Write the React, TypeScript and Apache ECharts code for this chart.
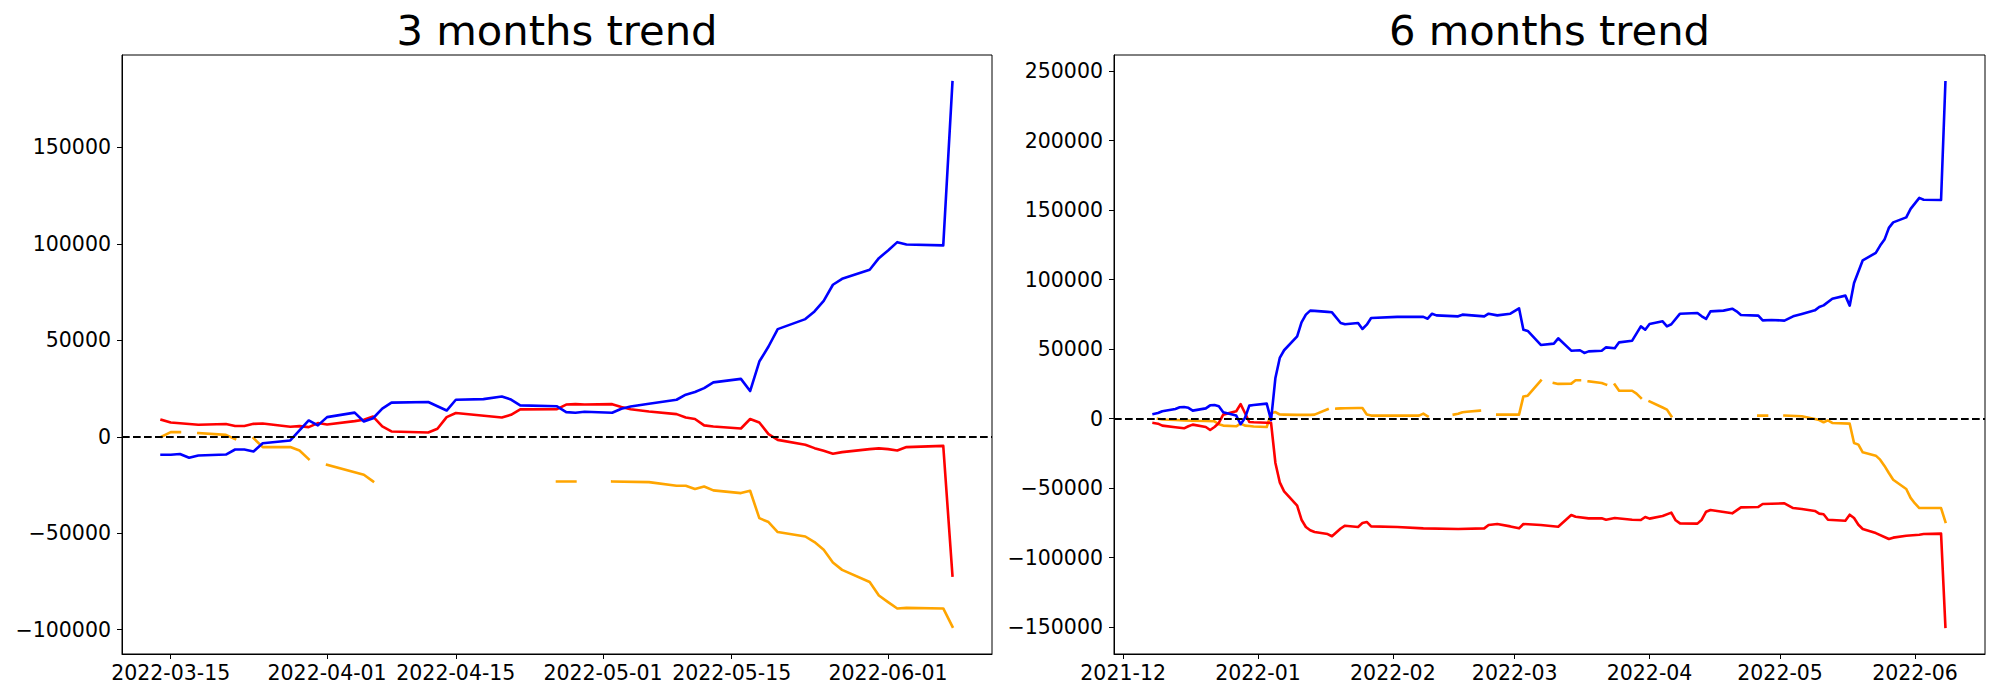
import React, { useEffect, useRef } from 'react';
import * as echarts from 'echarts';

type Pt = [string, number | null];

// ---------- 3 months panel ----------
const leftBlue: Pt[] = [
  ["2022-03-14",-9300],["2022-03-15",-9300],["2022-03-16",-8900],["2022-03-17",-10900],["2022-03-18",-9700],
  ["2022-03-21",-9200],["2022-03-22",-6600],["2022-03-23",-6600],["2022-03-24",-7600],["2022-03-25",-3400],
  ["2022-03-28",-1900],["2022-03-30",8450],["2022-03-31",5900],["2022-04-01",10200],["2022-04-04",12500],
  ["2022-04-05",7950],["2022-04-06",9600],["2022-04-07",14600],["2022-04-08",17700],["2022-04-12",18000],
  ["2022-04-14",13600],["2022-04-15",19200],["2022-04-18",19500],["2022-04-20",20900],["2022-04-21",19300],
  ["2022-04-22",16300],["2022-04-26",15800],["2022-04-27",12800],["2022-04-28",12440],["2022-04-29",12960],
  ["2022-05-02",12440],["2022-05-03",14500],["2022-05-04",15700],["2022-05-06",17100],["2022-05-09",19200],
  ["2022-05-10",21800],["2022-05-11",23200],["2022-05-12",25200],["2022-05-13",28200],["2022-05-16",30000],
  ["2022-05-17",23700],["2022-05-18",39000],["2022-05-19",46800],["2022-05-20",55800],["2022-05-23",61000],
  ["2022-05-24",65000],["2022-05-25",70500],["2022-05-26",78800],["2022-05-27",81900],["2022-05-30",86600],
  ["2022-05-31",92600],["2022-06-01",96600],["2022-06-02",100900],["2022-06-03",99700],["2022-06-07",99200],
  ["2022-06-08",183800],
];

const leftRed: Pt[] = [
  ["2022-03-14",8800],["2022-03-15",7400],["2022-03-18",6200],["2022-03-21",6600],["2022-03-22",5600],
  ["2022-03-23",5600],["2022-03-24",6700],["2022-03-25",6900],["2022-03-28",5200],["2022-03-29",5500],
  ["2022-03-30",5000],["2022-03-31",7100],["2022-04-01",6400],["2022-04-04",8100],["2022-04-05",8800],
  ["2022-04-06",10500],["2022-04-07",5350],["2022-04-08",2760],["2022-04-12",2250],["2022-04-13",4150],
  ["2022-04-14",10200],["2022-04-15",12300],["2022-04-20",10000],["2022-04-21",11400],["2022-04-22",14200],
  ["2022-04-26",14340],["2022-04-27",16700],["2022-04-28",16900],["2022-04-29",16700],["2022-05-02",16900],
  ["2022-05-03",15400],["2022-05-04",14300],["2022-05-06",13100],["2022-05-09",11750],["2022-05-10",10000],
  ["2022-05-11",9200],["2022-05-12",5900],["2022-05-13",5350],["2022-05-16",4300],["2022-05-17",9200],
  ["2022-05-18",7400],["2022-05-19",1400],["2022-05-20",-1600],["2022-05-23",-4150],["2022-05-24",-5900],
  ["2022-05-25",-7300],["2022-05-26",-8800],["2022-05-27",-7950],["2022-05-30",-6400],["2022-05-31",-6000],
  ["2022-06-01",-6400],["2022-06-02",-7100],["2022-06-03",-5350],["2022-06-07",-4700],["2022-06-08",-72000],
];

const leftOrange: Pt[] = [
  ["2022-03-14",0],["2022-03-15",2400],["2022-03-16",2400],["2022-03-17",null],["2022-03-18",1900],
  ["2022-03-21",1000],["2022-03-22",-1200],["2022-03-23",null],["2022-03-24",-700],["2022-03-25",-5350],
  ["2022-03-28",-5350],["2022-03-29",-7100],["2022-03-30",-11600],["2022-03-31",null],["2022-04-01",-14500],
  ["2022-04-05",-19700],["2022-04-06",-23150],["2022-04-07",null],["2022-04-26",-23150],["2022-04-28",-23150],
  ["2022-04-29",null],["2022-05-02",-23150],["2022-05-06",-23500],["2022-05-09",-25400],["2022-05-10",-25400],
  ["2022-05-11",-27100],["2022-05-12",-25750],["2022-05-13",-27800],["2022-05-16",-29200],["2022-05-17",-28000],
  ["2022-05-18",-42200],["2022-05-19",-44200],["2022-05-20",-49400],["2022-05-23",-51700],["2022-05-24",-54600],
  ["2022-05-25",-58600],["2022-05-26",-65200],["2022-05-27",-69000],["2022-05-30",-75300],["2022-05-31",-82300],
  ["2022-06-01",-85700],["2022-06-02",-89000],["2022-06-03",-88700],["2022-06-07",-89000],["2022-06-08",-98500],
];

// ---------- 6 months panel ----------
const rightBlue: Pt[] = [
  ["2021-12-08",3400],["2021-12-09",4100],["2021-12-10",5300],["2021-12-13",7000],["2021-12-14",8150],
  ["2021-12-15",8400],["2021-12-16",7800],["2021-12-17",5800],["2021-12-20",7400],["2021-12-21",9600],
  ["2021-12-22",9800],["2021-12-23",8900],["2021-12-24",4600],["2021-12-27",2200],["2021-12-28",-4000],
  ["2021-12-29",500],["2021-12-30",9400],["2021-12-31",9800],["2022-01-03",10800],["2022-01-04",-1000],
  ["2022-01-05",29300],["2022-01-06",43700],["2022-01-07",49200],["2022-01-10",59200],["2022-01-11",69300],
  ["2022-01-12",74800],["2022-01-13",77700],["2022-01-14",77500],["2022-01-17",76800],["2022-01-18",76500],
  ["2022-01-20",68800],["2022-01-21",67900],["2022-01-24",68800],["2022-01-25",64500],["2022-01-26",67600],
  ["2022-01-27",72400],["2022-02-02",73200],["2022-02-08",73200],["2022-02-09",71900],["2022-02-10",75500],
  ["2022-02-11",74300],["2022-02-16",73600],["2022-02-17",74800],["2022-02-22",73600],["2022-02-23",75500],
  ["2022-02-25",74300],["2022-02-28",75500],["2022-03-02",79400],["2022-03-03",64000],["2022-03-04",63100],
  ["2022-03-07",53000],["2022-03-10",54000],["2022-03-11",57800],["2022-03-14",48900],["2022-03-16",49200],
  ["2022-03-17",47300],["2022-03-18",48400],["2022-03-21",48900],["2022-03-22",51300],["2022-03-24",50600],
  ["2022-03-25",54900],["2022-03-28",56100],["2022-03-30",66400],["2022-03-31",64000],["2022-04-01",68100],
  ["2022-04-04",70000],["2022-04-05",66400],["2022-04-06",67900],["2022-04-08",75500],["2022-04-12",76000],
  ["2022-04-13",73600],["2022-04-14",71700],["2022-04-15",77200],["2022-04-18",77700],["2022-04-20",79100],
  ["2022-04-21",77200],["2022-04-22",74600],["2022-04-26",74100],["2022-04-27",70700],["2022-04-29",71000],
  ["2022-05-02",70500],["2022-05-04",73600],["2022-05-06",75300],["2022-05-09",77900],["2022-05-10",80300],
  ["2022-05-11",81500],["2022-05-13",86300],["2022-05-16",88500],["2022-05-17",81300],["2022-05-18",97600],
  ["2022-05-20",113900],["2022-05-23",119200],["2022-05-24",124500],["2022-05-25",128800],["2022-05-26",137200],
  ["2022-05-27",141200],["2022-05-30",144800],["2022-05-31",150900],["2022-06-02",158800],["2022-06-03",157500],
  ["2022-06-07",157300],["2022-06-08",242000],
];

const rightRed: Pt[] = [
  ["2021-12-08",-3100],["2021-12-09",-3600],["2021-12-10",-5000],["2021-12-13",-6200],["2021-12-15",-6950],
  ["2021-12-16",-5500],["2021-12-17",-4300],["2021-12-20",-6000],["2021-12-21",-8150],["2021-12-22",-6000],
  ["2021-12-23",-3100],["2021-12-24",2900],["2021-12-27",5300],["2021-12-28",10500],["2021-12-29",4100],
  ["2021-12-30",-2400],["2021-12-31",-2600],["2022-01-03",-2900],["2022-01-04",-3000],["2022-01-05",-31900],
  ["2022-01-06",-45800],["2022-01-07",-52300],["2022-01-10",-62600],["2022-01-11",-72700],["2022-01-12",-77900],
  ["2022-01-13",-80300],["2022-01-14",-81500],["2022-01-17",-83000],["2022-01-18",-84600],["2022-01-20",-79000],
  ["2022-01-21",-77000],["2022-01-24",-77900],["2022-01-25",-75100],["2022-01-26",-74300],["2022-01-27",-77500],
  ["2022-02-02",-77900],["2022-02-08",-78900],["2022-02-16",-79400],["2022-02-22",-78900],["2022-02-23",-76500],
  ["2022-02-25",-75800],["2022-02-28",-77500],["2022-03-02",-78900],["2022-03-03",-75800],["2022-03-07",-76500],
  ["2022-03-11",-77700],["2022-03-14",-69300],["2022-03-15",-70500],["2022-03-18",-71700],["2022-03-21",-71700],
  ["2022-03-22",-72700],["2022-03-24",-71500],["2022-03-28",-72700],["2022-03-30",-72900],["2022-03-31",-70700],
  ["2022-04-01",-71900],["2022-04-04",-70000],["2022-04-06",-67600],["2022-04-07",-73100],["2022-04-08",-75300],
  ["2022-04-12",-75500],["2022-04-13",-72700],["2022-04-14",-66900],["2022-04-15",-65700],["2022-04-20",-68100],
  ["2022-04-22",-63800],["2022-04-26",-63500],["2022-04-27",-61400],["2022-05-02",-60900],["2022-05-04",-64300],
  ["2022-05-06",-65000],["2022-05-09",-66400],["2022-05-10",-68300],["2022-05-11",-68800],["2022-05-12",-72700],
  ["2022-05-16",-73400],["2022-05-17",-69100],["2022-05-18",-71500],["2022-05-19",-76300],["2022-05-20",-79400],
  ["2022-05-23",-82300],["2022-05-26",-86600],["2022-05-27",-85600],["2022-05-30",-84200],["2022-06-02",-83500],
  ["2022-06-03",-83000],["2022-06-07",-82700],["2022-06-08",-149700],
];

const rightOrange: Pt[] = [
  ["2021-12-09",0],["2021-12-10",-600],["2021-12-13",-1000],["2021-12-15",-1200],["2021-12-17",-1500],
  ["2021-12-20",-1700],["2021-12-22",-1900],["2021-12-23",-4000],["2021-12-24",-5000],["2021-12-27",-5500],
  ["2021-12-28",-3500],["2021-12-29",-5000],["2021-12-30",-5300],["2021-12-31",-5600],["2022-01-03",-6000],
  ["2022-01-04",3800],["2022-01-05",4700],["2022-01-06",3000],["2022-01-07",2900],["2022-01-10",2700],
  ["2022-01-13",2700],["2022-01-14",2900],["2022-01-17",6800],["2022-01-18",null],["2022-01-19",7200],
  ["2022-01-20",7400],["2022-01-21",7500],["2022-01-24",7700],["2022-01-25",7700],["2022-01-26",3000],
  ["2022-01-27",2200],["2022-02-07",2200],["2022-02-08",3600],["2022-02-09",1700],["2022-02-10",null],
  ["2022-02-15",2900],["2022-02-16",3500],["2022-02-17",4600],["2022-02-18",5000],["2022-02-21",5800],
  ["2022-02-22",null],["2022-02-25",2900],["2022-03-02",2900],["2022-03-03",16000],["2022-03-04",16500],
  ["2022-03-07",27300],["2022-03-08",null],["2022-03-10",25700],["2022-03-11",25000],["2022-03-14",25200],
  ["2022-03-15",27600],["2022-03-16",27600],["2022-03-17",null],["2022-03-18",26800],["2022-03-21",25700],
  ["2022-03-22",24500],["2022-03-23",null],["2022-03-24",24500],["2022-03-25",20100],["2022-03-28",20100],
  ["2022-03-29",18000],["2022-03-30",14900],["2022-03-31",null],["2022-04-01",12400],["2022-04-04",8000],
  ["2022-04-05",6500],["2022-04-06",1700],["2022-04-07",null],["2022-04-26",2200],["2022-04-28",2200],
  ["2022-04-29",null],["2022-05-02",2200],["2022-05-06",1700],["2022-05-09",-200],["2022-05-10",-1000],
  ["2022-05-11",-2600],["2022-05-12",-1200],["2022-05-13",-3100],["2022-05-17",-3600],["2022-05-18",-17500],
  ["2022-05-19",-18700],["2022-05-20",-24200],["2022-05-23",-26600],["2022-05-24",-29500],["2022-05-25",-34000],
  ["2022-05-26",-39100],["2022-05-27",-43900],["2022-05-30",-50600],["2022-05-31",-57000],["2022-06-01",-61000],
  ["2022-06-02",-64300],["2022-06-07",-64300],["2022-06-08",-74300],
];

// ---------- tick labels ----------
const leftXTicks = ["2022-03-15","2022-04-01","2022-04-15","2022-05-01","2022-05-15","2022-06-01"];
const rightXTicks = ["2021-12","2022-01","2022-02","2022-03","2022-04","2022-05","2022-06"];
const leftYTicks = [-100000,-50000,0,50000,100000,150000];
const rightYTicks = [-150000,-100000,-50000,0,50000,100000,150000,200000,250000];

const titles = ["3 months trend", "6 months trend"];
const COLORS = { blue: "#0000ff", red: "#ff0000", orange: "#ffa500" };
const FONT = "DejaVu Sans";

const ts = (d: string) => Date.parse(d.length === 7 ? d + "-01" : d);

function toData(pts: Pt[]) {
  return pts.map(([d, v]) => [ts(d), v === null ? "-" : v]);
}

function panelRange(all: Pt[][]) {
  let xmin = Infinity, xmax = -Infinity, ymin = Infinity, ymax = -Infinity;
  all.forEach((s) =>
    s.forEach(([d, v]) => {
      const t = ts(d);
      xmin = Math.min(xmin, t); xmax = Math.max(xmax, t);
      if (v !== null) { ymin = Math.min(ymin, v); ymax = Math.max(ymax, v); }
    })
  );
  const dx = (xmax - xmin) * 0.05, dy = (ymax - ymin) * 0.05;
  return { xmin: xmin - dx, xmax: xmax + dx, ymin: ymin - dy, ymax: ymax + dy };
}

const fmtY = (v: number) => (v < 0 ? "\u2212" + Math.abs(v) : String(v));

export default function App() {
  const ref = useRef<HTMLDivElement>(null);
  useEffect(() => {
    if (!ref.current) return;
    const chart = echarts.init(ref.current, undefined, { renderer: "svg" });

    const panels = [
      { blue: leftBlue, red: leftRed, orange: leftOrange, xt: leftXTicks, yt: leftYTicks, grid: { left: 122, top: 55, width: 870, height: 599 } },
      { blue: rightBlue, red: rightRed, orange: rightOrange, xt: rightXTicks, yt: rightYTicks, grid: { left: 1114, top: 55, width: 871, height: 599 } },
    ];

    const grids: any[] = [], xAxes: any[] = [], yAxes: any[] = [], series: any[] = [], graphics: any[] = [];
    panels.forEach((p, i) => {
      const r = panelRange([p.blue, p.red, p.orange]);
      grids.push({ ...p.grid, show: true, borderColor: "#000", borderWidth: 1, backgroundColor: "#fff", containLabel: false });
      const xVals = p.xt.map(ts);
      const labelMap = new Map<number, string>();
      p.xt.forEach((l) => labelMap.set(ts(l), l));
      xAxes.push({
        type: "value", gridIndex: i, min: r.xmin, max: r.xmax,
        axisLine: { show: true, onZero: false, lineStyle: { color: "#000", width: 1 } },
        axisTick: { show: true, length: 5, lineStyle: { color: "#000", width: 1 }, customValues: xVals },
        axisLabel: {
          customValues: xVals, color: "#000", fontSize: 20.5, fontFamily: FONT, margin: 8,
          formatter: (v: number) => labelMap.get(v) ?? "",
        },
        splitLine: { show: false },
      });
      yAxes.push({
        type: "value", gridIndex: i, min: r.ymin, max: r.ymax,
        axisLine: { show: true, onZero: false, lineStyle: { color: "#000", width: 1 } },
        axisTick: { show: true, length: 5, lineStyle: { color: "#000", width: 1 }, customValues: p.yt },
        axisLabel: { customValues: p.yt, color: "#000", fontSize: 20.5, fontFamily: FONT, margin: 11, formatter: fmtY },
        splitLine: { show: false },
      });
      const mk = (data: Pt[], color: string, extra: any = {}) => ({
        type: "line", xAxisIndex: i, yAxisIndex: i, data: toData(data),
        showSymbol: false, symbol: "none", connectNulls: false, silent: true,
        lineStyle: { color, width: 2.6, cap: "square", join: "round" }, ...extra,
      });
      series.push(mk(p.orange, COLORS.orange));
      series.push(mk(p.red, COLORS.red));
      series.push(
        mk(p.blue, COLORS.blue, {
          markLine: {
            silent: true, symbol: ["none", "none"], label: { show: false },
            lineStyle: { color: "#000", width: 2.1, type: [7.7, 3.3], cap: "butt" },
            emphasis: { disabled: true },
            data: [{ yAxis: 0 }],
          },
        })
      );
      graphics.push({
        type: "text", x: p.grid.left + p.grid.width / 2, y: 30,
        style: { text: titles[i], fontSize: 41.7, fontFamily: FONT, fill: "#000", align: "center", verticalAlign: "middle" },
      });
    });

    chart.setOption({
      animation: false,
      backgroundColor: "#fff",
      grid: grids, xAxis: xAxes, yAxis: yAxes, series, graphic: graphics,
    });
    return () => chart.dispose();
  }, []);
  return <div ref={ref} style={{ position: "fixed", left: 0, top: 0, width: 2000, height: 700, background: "#fff" }} />;
}
